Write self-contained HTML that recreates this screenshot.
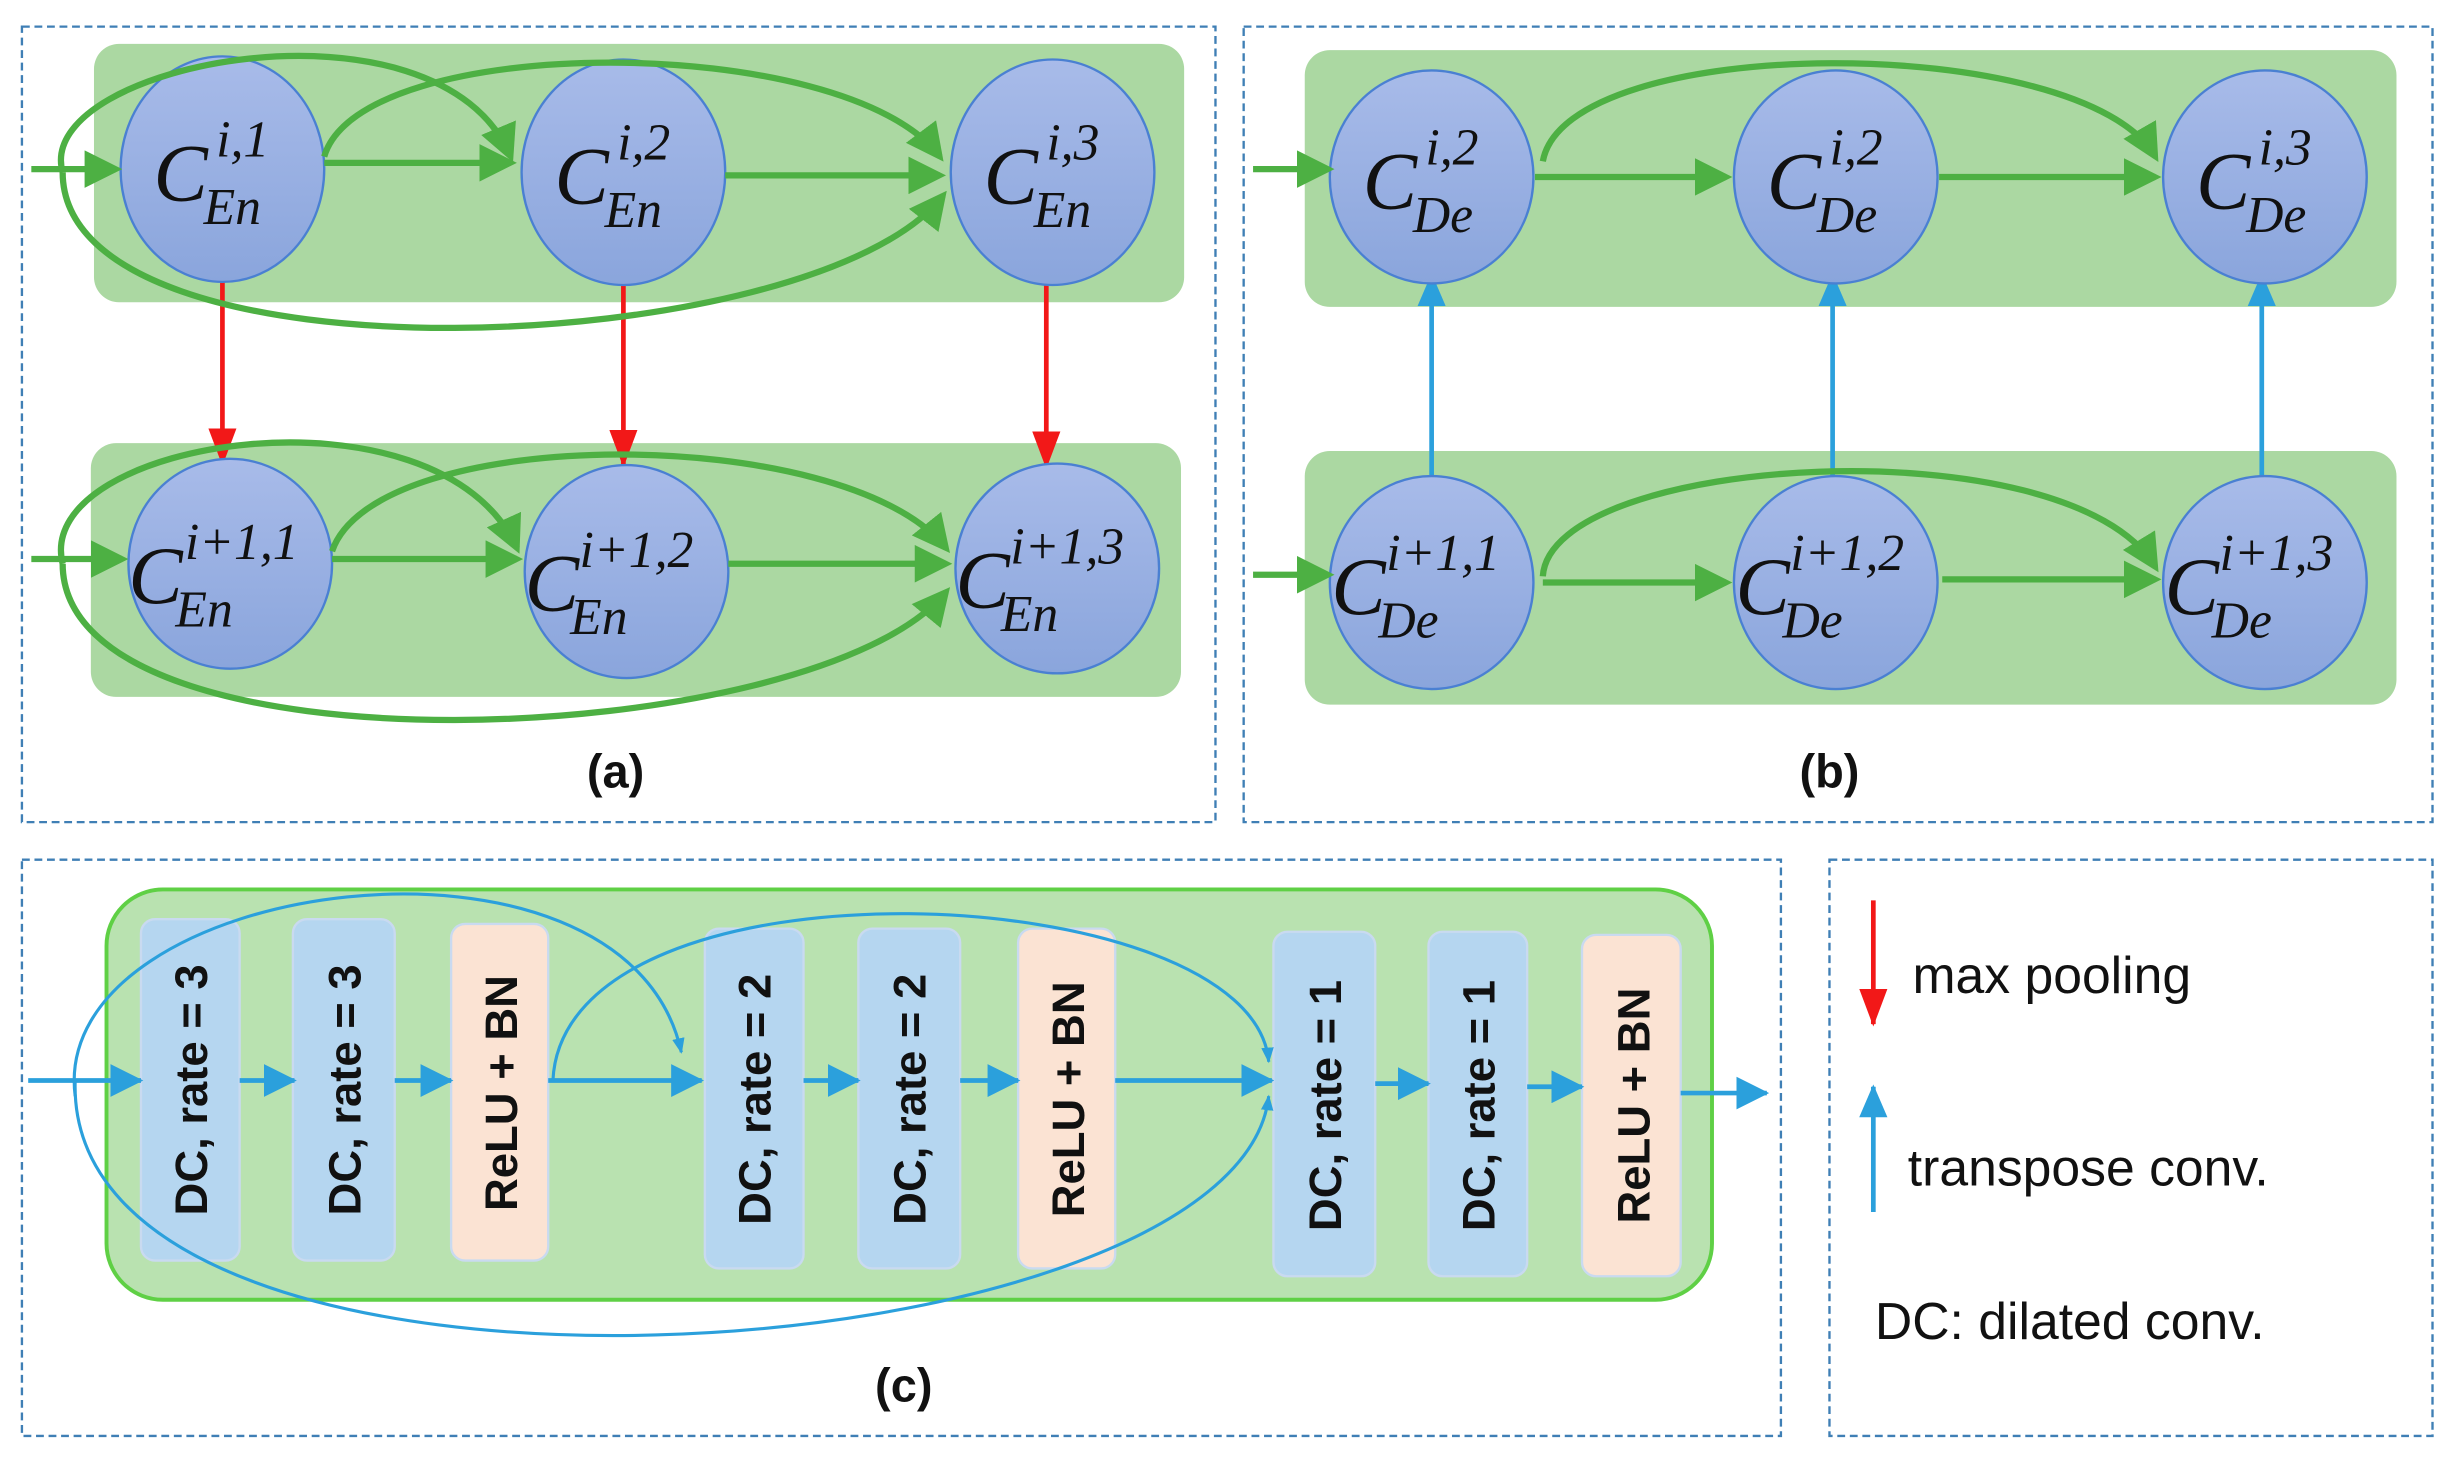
<!DOCTYPE html>
<html><head><meta charset="utf-8"><style>
html,body{margin:0;padding:0;background:#fff}
svg{display:block}
</style></head><body>
<svg width="2456" height="1472" viewBox="0 0 1568 940" preserveAspectRatio="none" xmlns="http://www.w3.org/2000/svg">
<defs>
<linearGradient id="ng" x1="0" y1="0" x2="0" y2="1"><stop offset="0" stop-color="#a8bbe9"/><stop offset="1" stop-color="#8aa5dc"/></linearGradient>
<marker id="ga" markerWidth="6" markerHeight="6" refX="5" refY="3" orient="auto" markerUnits="strokeWidth"><path d="M0,0 L6,3 L0,6 z" fill="#4db043"/></marker>
<marker id="ra" markerWidth="8" markerHeight="6" refX="7.5" refY="3" orient="auto" markerUnits="strokeWidth"><path d="M0,0 L8,3 L0,6 z" fill="#f21818"/></marker>
<marker id="ba" markerWidth="7" markerHeight="6" refX="6.5" refY="3" orient="auto" markerUnits="strokeWidth"><path d="M0,0 L7,3 L0,6 z" fill="#2ba0dc"/></marker>
<marker id="ca" markerWidth="5" markerHeight="4" refX="4.5" refY="2" orient="auto" markerUnits="strokeWidth"><path d="M0,0 L5,2 L0,4 z" fill="#2ba0dc"/></marker>
<marker id="cs" markerWidth="7" markerHeight="7" refX="6.5" refY="3.5" orient="auto" markerUnits="strokeWidth"><path d="M0,0 L7,3.5 L0,7 z" fill="#2ba0dc"/></marker>
</defs>
<g fill="none" stroke="#3f7fb5" stroke-width="1.5" stroke-dasharray="5,3">
<rect x="14" y="17" width="762" height="508"/>
<rect x="794" y="17" width="759" height="508"/>
<rect x="14" y="549" width="1123" height="368"/>
<rect x="1168" y="549" width="385" height="368"/>
</g>
<rect x="60" y="28" width="696" height="165" rx="16" fill="#abd8a2"/>
<rect x="58" y="283" width="696" height="162" rx="16" fill="#abd8a2"/>
<rect x="833" y="32" width="697" height="164" rx="16" fill="#abd8a2"/>
<rect x="833" y="288" width="697" height="162" rx="16" fill="#abd8a2"/>

<g stroke="#f21818" stroke-width="3" marker-end="url(#ra)">
<line x1="142" y1="172" x2="142" y2="296"/>
<line x1="398" y1="172" x2="398" y2="297"/>
<line x1="668" y1="175" x2="668" y2="298"/>
</g>
<g stroke="#2ba0dc" stroke-width="3" marker-end="url(#ba)">
<line x1="914" y1="308" x2="914" y2="176"/>
<line x1="1170" y1="308" x2="1170" y2="176"/>
<line x1="1444" y1="308" x2="1444" y2="176"/>
</g>

<g fill="url(#ng)" stroke="#4a80d2" stroke-width="1.5">
<ellipse cx="142" cy="108" rx="65" ry="72"/>
<ellipse cx="398" cy="110" rx="65" ry="72"/>
<ellipse cx="672" cy="110" rx="65" ry="72"/>
<ellipse cx="147" cy="360" rx="65" ry="67"/>
<ellipse cx="400" cy="365" rx="65" ry="68"/>
<ellipse cx="675" cy="363" rx="65" ry="67"/>
<ellipse cx="914" cy="113" rx="65" ry="68"/>
<ellipse cx="1172" cy="113" rx="65" ry="68"/>
<ellipse cx="1446" cy="113" rx="65" ry="68"/>
<ellipse cx="914" cy="372" rx="65" ry="68"/>
<ellipse cx="1172" cy="372" rx="65" ry="68"/>
<ellipse cx="1446" cy="372" rx="65" ry="68"/>
</g>

<g fill="none" stroke="#4db043" stroke-width="4" marker-end="url(#ga)">
<line x1="20" y1="108" x2="74" y2="108"/>
<line x1="207" y1="104" x2="326" y2="104"/>
<line x1="463" y1="112" x2="600" y2="112"/>
<path d="M40,110 C20,40 280,-10 326,100"/>
<path d="M207,100 C230,20 540,20 600,100"/>
<path d="M40,110 C40,250 520,230 602,125"/>
<line x1="20" y1="357" x2="78" y2="357"/>
<line x1="212" y1="357" x2="330" y2="357"/>
<line x1="465" y1="360" x2="604" y2="360"/>
<path d="M40,360 C20,280 280,240 330,350"/>
<path d="M212,352 C240,270 540,270 604,350"/>
<path d="M40,360 C40,500 520,480 604,378"/>
<line x1="800" y1="108" x2="848" y2="108"/>
<line x1="980" y1="113" x2="1102" y2="113"/>
<line x1="1238" y1="113" x2="1376" y2="113"/>
<path d="M985,103 C1000,20 1330,20 1376,100"/>
<line x1="800" y1="367" x2="848" y2="367"/>
<line x1="985" y1="372" x2="1102" y2="372"/>
<line x1="1240" y1="370" x2="1376" y2="370"/>
<path d="M985,368 C990,290 1320,270 1376,362"/>
</g>

<g font-family="Liberation Serif, serif" font-style="italic" fill="#111">
<g font-size="52"><text x="98" y="128">C</text><text x="354" y="130">C</text><text x="628" y="130">C</text>
<text x="82" y="385">C</text><text x="335" y="390">C</text><text x="610" y="388">C</text>
<text x="870" y="133">C</text><text x="1128" y="133">C</text><text x="1402" y="133">C</text>
<text x="850" y="392">C</text><text x="1108" y="392">C</text><text x="1382" y="392">C</text></g>
<g font-size="33">
<text x="138" y="100">i,1</text><text x="130" y="143">En</text>
<text x="394" y="102">i,2</text><text x="386" y="145">En</text>
<text x="668" y="102">i,3</text><text x="660" y="145">En</text>
<text x="118" y="357">i+1,1</text><text x="112" y="400">En</text>
<text x="370" y="362">i+1,2</text><text x="364" y="405">En</text>
<text x="645" y="360">i+1,3</text><text x="639" y="403">En</text>
<text x="910" y="105">i,2</text><text x="902" y="148">De</text>
<text x="1168" y="105">i,2</text><text x="1160" y="148">De</text>
<text x="1442" y="105">i,3</text><text x="1434" y="148">De</text>
<text x="885" y="364">i+1,1</text><text x="880" y="407">De</text>
<text x="1143" y="364">i+1,2</text><text x="1138" y="407">De</text>
<text x="1417" y="364">i+1,3</text><text x="1412" y="407">De</text>
</g></g>

<g font-family="Liberation Sans, sans-serif" font-weight="bold" font-size="30" fill="#111" text-anchor="middle">
<text x="393" y="503">(a)</text><text x="1168" y="503">(b)</text><text x="577" y="895">(c)</text>
</g>

<rect x="68" y="568" width="1025" height="262" rx="36" fill="#b9e2b0" stroke="#5fd045" stroke-width="2.5"/>
<g stroke="#c9daf0" stroke-width="1.5">
<rect x="90" y="587" width="63" height="218" rx="9" fill="#b5d6f0"/>
<rect x="187" y="587" width="65" height="218" rx="9" fill="#b5d6f0"/>
<rect x="288" y="590" width="62" height="215" rx="9" fill="#fbe3d3"/>
<rect x="450" y="593" width="63" height="217" rx="9" fill="#b5d6f0"/>
<rect x="548" y="593" width="65" height="217" rx="9" fill="#b5d6f0"/>
<rect x="650" y="593" width="62" height="217" rx="9" fill="#fbe3d3"/>
<rect x="813" y="595" width="65" height="220" rx="9" fill="#b5d6f0"/>
<rect x="912" y="595" width="63" height="220" rx="9" fill="#b5d6f0"/>
<rect x="1010" y="597" width="63" height="218" rx="9" fill="#fbe3d3"/>
</g>
<g font-family="Liberation Sans, sans-serif" font-weight="bold" font-size="29" fill="#111" text-anchor="middle">
<text transform="translate(132,696) rotate(-90)">DC, rate = 3</text>
<text transform="translate(230,696) rotate(-90)">DC, rate = 3</text>
<text transform="translate(330,698) rotate(-90)">ReLU + BN</text>
<text transform="translate(492,702) rotate(-90)">DC, rate = 2</text>
<text transform="translate(591,702) rotate(-90)">DC, rate = 2</text>
<text transform="translate(692,702) rotate(-90)">ReLU + BN</text>
<text transform="translate(856,706) rotate(-90)">DC, rate = 1</text>
<text transform="translate(954,706) rotate(-90)">DC, rate = 1</text>
<text transform="translate(1053,706) rotate(-90)">ReLU + BN</text>
</g>
<g stroke="#2ba0dc" stroke-width="3" marker-end="url(#cs)" fill="none">
<line x1="18" y1="690" x2="90" y2="690"/>
<line x1="153" y1="690" x2="188" y2="690"/>
<line x1="252" y1="690" x2="288" y2="690"/>
<line x1="350" y1="690" x2="448" y2="690"/>
<line x1="513" y1="690" x2="548" y2="690"/>
<line x1="613" y1="690" x2="650" y2="690"/>
<line x1="712" y1="690" x2="812" y2="690"/>
<line x1="878" y1="692" x2="912" y2="692"/>
<line x1="975" y1="694" x2="1010" y2="694"/>
<line x1="1073" y1="698" x2="1128" y2="698"/>
</g>
<g stroke="#2ba0dc" stroke-width="2" fill="none" marker-end="url(#ca)">
<path d="M48,700 C30,560 400,510 435,672"/>
<path d="M353,690 C360,540 800,560 810,678"/>
<path d="M48,690 C40,930 790,880 810,700"/>
</g>

<line x1="1196" y1="575" x2="1196" y2="654" stroke="#f21818" stroke-width="3" marker-end="url(#ra)"/>
<line x1="1196" y1="774" x2="1196" y2="694" stroke="#2ba0dc" stroke-width="3" marker-end="url(#ba)"/>
<g font-family="Liberation Sans, sans-serif" font-size="33" fill="#111">
<text x="1221" y="634">max pooling</text>
<text x="1218" y="757">transpose conv.</text>
<text x="1197" y="855">DC: dilated conv.</text>
</g>
</svg>
</body></html>
